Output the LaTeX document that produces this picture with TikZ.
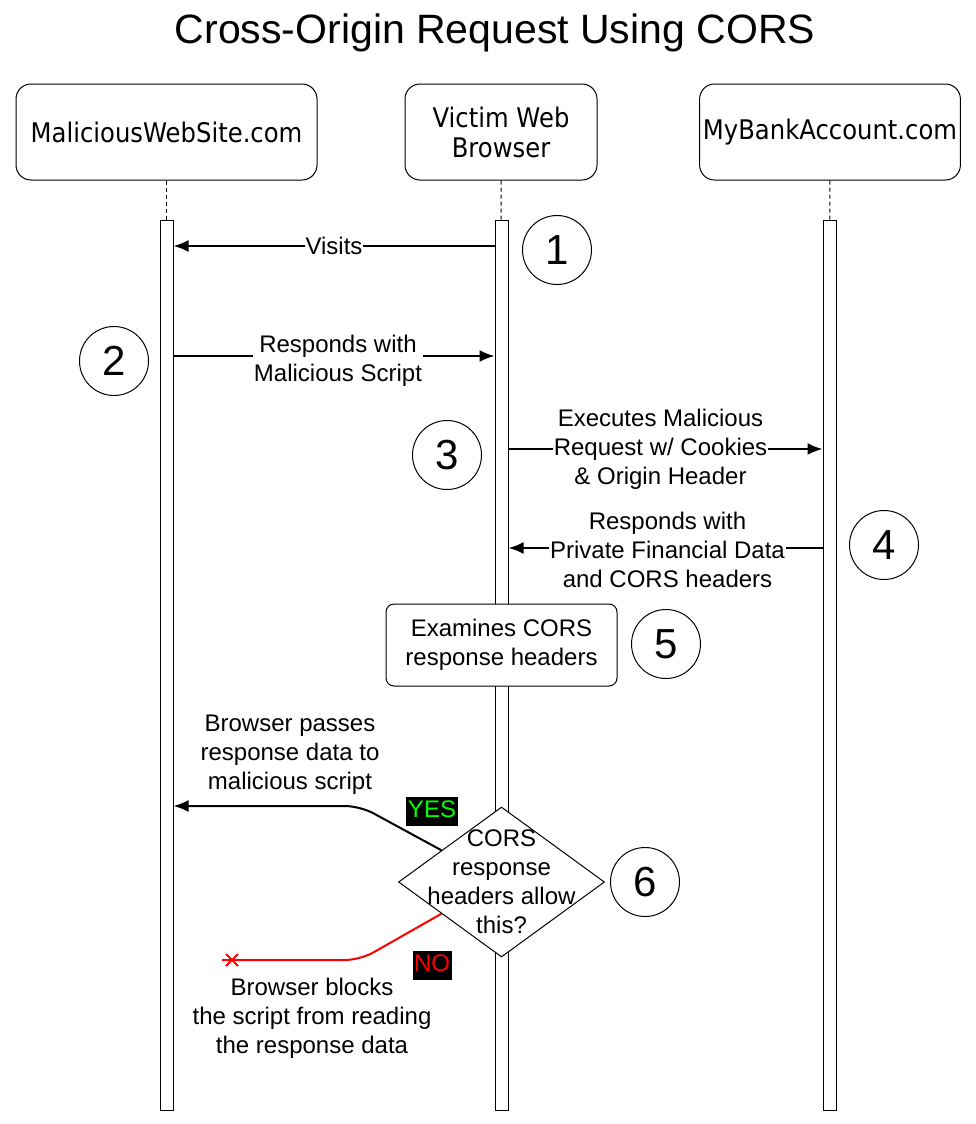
\documentclass[tikz,border=0pt]{standalone}
\usepackage{fontspec}
\setmainfont{Liberation Sans}
\newfontfamily\actorfont[FakeStretch=0.9]{DejaVu Sans}
\usetikzlibrary{arrows.meta,shapes.geometric,shapes.misc,calc}
\definecolor{yesgreen}{RGB}{0,255,0}
\definecolor{nored}{RGB}{255,0,0}

\begin{document}
\begin{tikzpicture}[x=1pt,y=-1pt,>={Latex[length=15pt,width=12pt]}]
			\tikzstyle{actor}=[rectangle,rounded corners=15pt,draw=black,line width=1pt,minimum height=96pt,font=\actorfont\fontsize{27}{30}\selectfont,align=center]
			\tikzstyle{bar}=[rectangle,draw=black,fill=white,line width=1pt,minimum width=13pt,minimum height=890pt,inner sep=0pt]
			\tikzstyle{lifeline}=[draw=black,line width=1pt,dash pattern=on 4pt off 3pt]
			\tikzstyle{txt}=[font=\fontsize{24}{29}\selectfont,align=center]
			\tikzstyle{lbl}=[txt,fill=white,inner sep=1pt]
			\tikzstyle{msg}=[draw=black,line width=2pt,->]
			\tikzstyle{marker}=[circle,draw=black,line width=1pt,minimum size=69pt,inner sep=0pt,font=\fontsize{42}{42}\selectfont]
			\tikzstyle{procbox}=[txt,rectangle,rounded corners=8pt,draw=black,fill=white,line width=1pt,minimum width=231pt,minimum height=82pt]
			\tikzstyle{decision}=[diamond,draw=black,fill=white,line width=1pt,minimum width=206pt,minimum height=150pt,inner sep=0pt]
			\tikzstyle{answer}=[fill=black,font=\fontsize{24}{24}\selectfont,inner xsep=1.5pt,inner ysep=3pt,text height=18pt,text depth=5pt]

			\useasboundingbox (0,0) rectangle (975,1124);

			\begin{scope}

				\node [font=\fontsize{41}{48}\selectfont,anchor=base] (title) at (495,44) {Cross-Origin Request Using CORS};

				\node [actor, minimum width=301pt] (site)   at (166.5,132) {MaliciousWebSite.com};
				\node [actor, minimum width=192pt] (victim) at (501,132)   {Victim Web\\Browser};
				\node [actor, minimum width=260pt] (bank)   at (830,132)   {MyBankAccount.com};

				\node [bar] (bar1) at (166.5,665) {};
				\node [bar] (bar2) at (501.5,665) {};
				\node [bar] (bar3) at (829.5,665) {};

				\draw[lifeline] (site) -- (bar1);
				\draw[lifeline] (victim) -- (bar2);
				\draw[lifeline] (bank) -- (bar3);

				\coordinate (m1) at (0,246);
				\coordinate (m2) at (0,356);
				\coordinate (m3) at (0,449);
				\coordinate (m4) at (0,548);

				\draw[msg] (bar2.west |- m1) -- node[lbl]{Visits} (bar1.east |- m1);
				\draw[msg] (bar1.east |- m2) -- node[lbl, xshift=4pt, yshift=-5pt]{Responds with\\Malicious Script} (bar2.west |- m2);
				\draw[msg] (bar2.east |- m3) -- node[lbl, xshift=-5pt]{Executes Malicious\\Request w/ Cookies\\\& Origin Header} (bar3.west |- m3);
				\draw[msg] (bar3.west |- m4) -- node[lbl, xshift=2pt, yshift=-2pt]{Responds with\\Private Financial Data\\and CORS headers} (bar2.east |- m4);

				\node [procbox] (exam) at (501.5,645) {Examines CORS\\response headers};
				\node [decision, label={[txt]center:{CORS\\response\\headers allow\\this?}}] (dec) at (501.5,882) {};

				\coordinate (yesbend) at (360,806);
				\coordinate (nobend)  at (360,960);
				\coordinate (noend)   at (222,960);

				\draw[msg, rounded corners=15pt] ($(dec.west)!0.42!(dec.north)$) -- (yesbend) -- (bar1.east |- yesbend);
				\draw[draw=nored, line width=2pt, rounded corners=15pt] ($(dec.west)!0.42!(dec.south)$) -- (nobend) -- (noend);
				\node [cross out, draw=nored, line width=2pt, minimum size=10pt, inner sep=0pt] (nox) at (232,960) {};

				\node [answer, text=yesgreen] (yes) at (432,811) {YES};
				\node [answer, text=nored]    (no)  at (432,965) {NO};

				\node [txt] (passlbl)  at (290,755)  {Browser passes\\response data to\\malicious script};
				\node [txt] (blocklbl) at (312,1018) {Browser blocks\\the script from reading\\the response data};

				\node [marker] (n1) at (557,250) {1};
				\node [marker] (n2) at (114,361) {2};
				\node [marker] (n3) at (447,455) {3};
				\node [marker] (n4) at (884,545) {4};
				\node [marker] (n5) at (666,644) {5};
				\node [marker] (n6) at (645,882) {6};

			\end{scope}
\end{tikzpicture}
\end{document}
